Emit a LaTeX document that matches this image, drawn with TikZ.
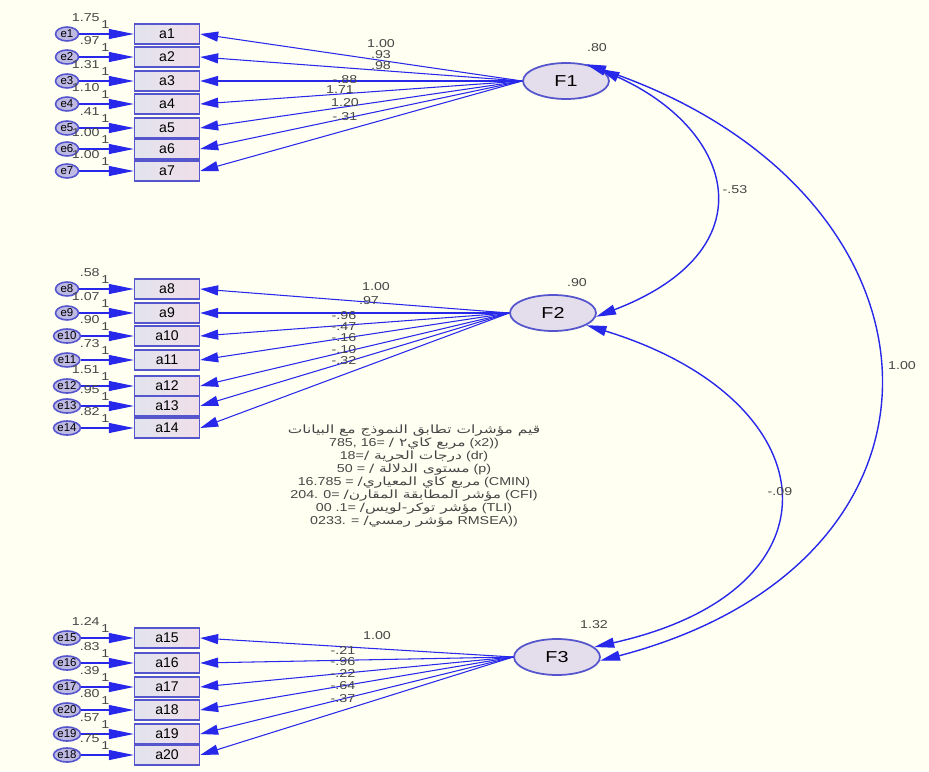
\documentclass[tikz,border=0pt]{standalone}
\usepackage{fontspec}
\setmainfont{Liberation Sans}
\newfontfamily\widesans[FakeStretch=1.25]{Liberation Sans}
\newfontfamily\arabicfont[Script=Arabic,FakeStretch=1.35]{DejaVu Sans}
\TeXXeTstate=1
\usetikzlibrary{arrows.meta,shapes.geometric}
\definecolor{amosblue}{RGB}{40,40,235}
\definecolor{boxline}{RGB}{85,85,205}
\definecolor{boxleft}{RGB}{226,228,238}
\definecolor{boxright}{RGB}{240,222,232}
\definecolor{facfill}{RGB}{228,222,236}
\definecolor{errfill}{RGB}{190,186,228}
\definecolor{labelgray}{RGB}{70,70,70}
\definecolor{paper}{RGB}{255,255,242}
\newcommand\arabtext[1]{{\arabicfont\beginR #1\endR}}

\begin{document}
\begin{tikzpicture}[x=0.02cm, y=-0.02cm,
    item/.style={draw=boxline, line width=0.8pt, left color=boxleft, right color=boxright,
      minimum width=1.3cm, minimum height=0.4cm, inner sep=0pt, font=\fontsize{8}{9}\selectfont},
    err/.style={ellipse, draw=boxline, line width=0.9pt, fill=errfill, minimum width=0.46cm,
      minimum height=0.28cm, inner sep=0pt, font=\fontsize{6.5}{7}\selectfont},
    fac/.style={ellipse, draw=boxline, line width=1pt, fill=facfill, minimum width=1.72cm,
      minimum height=0.72cm, font=\widesans\fontsize{9}{10}\selectfont},
    lbl/.style={inner sep=0pt, text=labelgray, font=\widesans\fontsize{6.5}{7}\selectfont},
    earr/.style={amosblue, line width=0.6pt, -{Triangle[length=5mm,width=2mm]}},
    larr/.style={amosblue, line width=0.6pt, -{Triangle[length=3.6mm,width=2mm]}},
    cov/.style={amosblue, line width=0.8pt,
      {Triangle[length=4mm,width=2mm]}-{Triangle[length=4mm,width=2mm]}}]
  \useasboundingbox (0,0) rectangle (929,771);
  \fill[paper] (0,0) rectangle (929,771);

  % Factors
  \node[fac] (F1) at (566,81) {F1};
  \node[fac] (F2) at (553,313) {F2};
  \node[fac] (F3) at (557,657) {F3};
  \node[lbl] (vF1) at (597,48) {.80};
  \node[lbl] (vF2) at (577,283) {.90};
  \node[lbl] (vF3) at (594,625) {1.32};

  % Items and errors
  \foreach \i/\y/\e/\v in {1/34/1/1.75, 2/57/2/.97, 3/81/3/1.31, 4/104/4/1.10, 5/128/5/.41,
      6/149/6/1.00, 7/171/7/1.00, 8/289/8/.58, 9/313/9/1.07, 10/336/10/.90, 11/360/11/.73,
      12/386/12/1.51, 13/406/13/.95, 14/428/14/.82, 15/638/15/1.24, 16/663/16/.83,
      17/687/17/.39, 18/710/20/.80, 19/734/19/.57, 20/755/18/.75} {
    \node[item] (a\i) at (167,\y) {a\i};
    \node[err] (e\i) at (67,\y) {e\e};
    \draw[earr] (e\i) -- (a\i);
    \node[lbl, anchor=east] (v\i) at (100,{\y-16}) {\v};
    \node[lbl, anchor=west] (u\i) at (101,{\y-9}) {1};
  }

  % Loadings
  \foreach \i/\x/\y/\l in {1/381/44/1.00, 2/381/55/.93, 3/381/66/.98, 4/345/80/-.88,
      5/340/90/1.71, 6/345/103/1.20, 7/345/117/-.31} {
    \draw[larr] (F1.west) -- (a\i.east);
    \node[lbl] (l\i) at (\x,\y) {\l};
  }
  \foreach \i/\x/\y/\l in {8/376/287/1.00, 9/369/301/.97, 10/344/316/-.96, 11/344/327/-.47,
      12/344/338/-.16, 13/344/350/-.10, 14/344/361/-.32} {
    \draw[larr] (F2.west) -- (a\i.east);
    \node[lbl] (l\i) at (\x,\y) {\l};
  }
  \foreach \i/\x/\y/\l in {15/377/636/1.00, 16/343/651/-.21, 17/343/662/-.96,
      18/343/674/-.22, 19/343/686/-.64, 20/343/699/-.37} {
    \draw[larr] (F3.west) -- (a\i.east);
    \node[lbl] (l\i) at (\x,\y) {\l};
  }

  % Covariances
  \draw[cov] (F1.20) .. controls (735,130) and (770,250) .. (F2.-5);
  \draw[cov] (F1.40) .. controls (960,190) and (985,560) .. (F3.-5);
  \draw[cov] (F2.-20) .. controls (830,400) and (850,590) .. (F3.15);
  \node[lbl] (c12) at (735,190) {-.53};
  \node[lbl] (c23) at (780,492) {-.09};
  \node[lbl] (c13) at (902,366) {1.00};

  % Fit indices
  \node[lbl, font=\widesans\fontsize{6.5}{7.4}\selectfont, align=center] (fit) at (414,476) {%
    \arabtext{قيم مؤشرات تطابق النموذج مع البيانات}\\
    785, 16= \arabtext{مربع كاي٢ /} (x2))\\
    18=\arabtext{درجات الحرية /} (dr)\\
    50 = \arabtext{مستوى الدلالة /} (p)\\
    16.785 = \arabtext{مربع كاي المعياري/} (CMIN)\\
    204. 0= \arabtext{مؤشر المطابقة المقارن/} (CFI)\\
    00 .1= \arabtext{مؤشر توكر-لويس/} (TLI)\\
    0233. = \arabtext{مؤشر رمسي/} RMSEA))};
\end{tikzpicture}
\end{document}
